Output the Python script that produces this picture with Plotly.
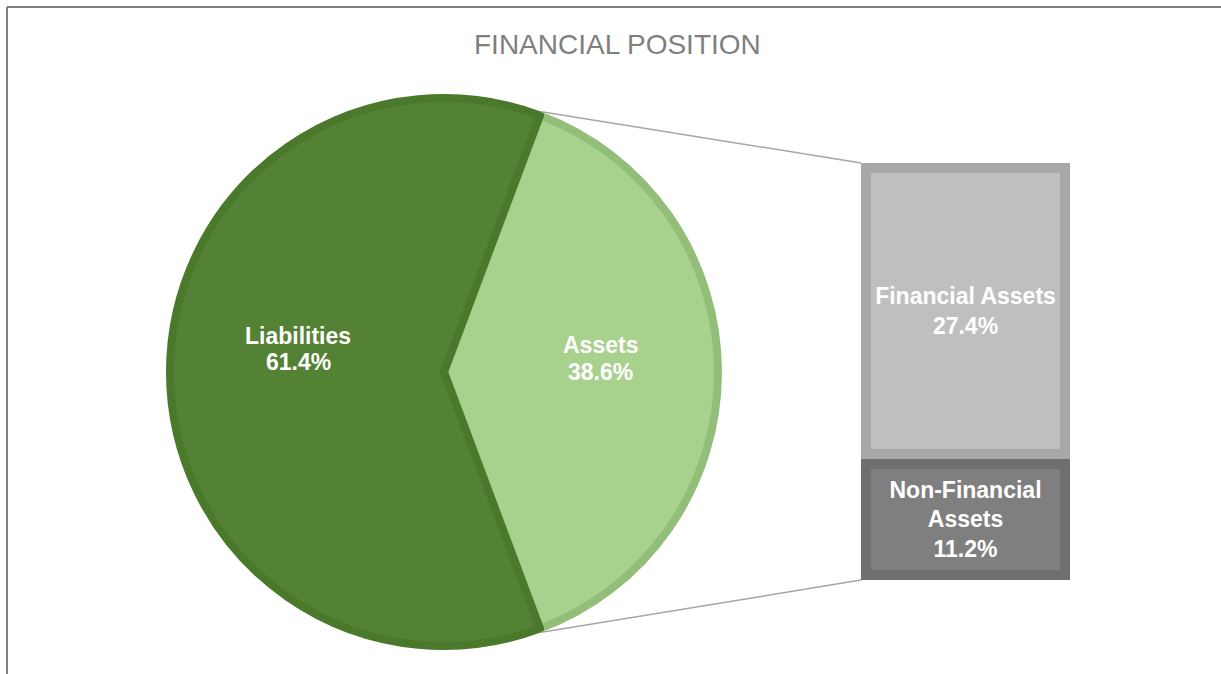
import math
import plotly.graph_objects as go

# ---- data ----
pie_labels = ["Assets", "Liabilities"]
pie_values = [38.6, 61.4]
bar_labels = ["Non-Financial<br>Assets", "Financial Assets"]
bar_values = [11.2, 27.4]
title_text = "FINANCIAL POSITION"

# ---- style / layout constants ----
W, H = 1221, 674
FONT = "Liberation Sans, Arial, sans-serif"
pie_fill = ["#a9d18e", "#548235"]
pie_edge = ["#93be7a", "#4b792b"]
bar_fill = ["#7f7f7f", "#bfbfbf"]
bar_edge = ["#6f6f6f", "#a8a8a8"]

pie_cx, pie_cy, pie_r = 444, 372, 278   # pixels
pie_line = 8
bar_x0, bar_x1, bar_y0, bar_y1 = 861, 1070, 163, 580  # pixels
border_px = 10

def px(x):
    return x / W

def py(y):
    return 1 - y / H

total_assets = sum(bar_values)
share = pie_values[0] / sum(pie_values)
rotation = 90 - 360 * share / 2

r_in = pie_r - pie_line / 2
fig = go.Figure()
fig.add_trace(go.Pie(
    labels=pie_labels, values=pie_values, sort=False, direction="clockwise",
    rotation=rotation, textinfo="none", hoverinfo="label+percent",
    marker=dict(colors=pie_fill, line=dict(color=pie_edge, width=pie_line)),
    domain=dict(x=[px(pie_cx - r_in), px(pie_cx + r_in)],
                y=[py(pie_cy + r_in), py(pie_cy - r_in)]),
    showlegend=False,
))

# bar of assets breakdown
bases = [0, bar_values[0]]
unit_y = total_assets / (bar_y1 - bar_y0)
unit_x = 1 / (bar_x1 - bar_x0)
iy = border_px * unit_y
ix = border_px * unit_x
fig.add_trace(go.Bar(
    x=[0, 0], y=bar_values, base=bases, width=1,
    marker=dict(color=bar_edge, line=dict(width=0)),
    hoverinfo="skip", showlegend=False,
))
fig.add_trace(go.Bar(
    x=[0, 0], y=[v - 2 * iy for v in bar_values], base=[b + iy for b in bases],
    width=1 - 2 * ix,
    marker=dict(color=bar_fill, line=dict(width=0)),
    text=[f"{l}<br>{v:.1f}%" for l, v in zip(bar_labels, bar_values)],
    textposition="inside", insidetextanchor="middle", constraintext="none",
    textfont=dict(family=FONT, size=23, color="white", weight="bold"),
    textangle=0, hoverinfo="skip", showlegend=False,
))

# connector lines from pie to bar
ang = math.radians(rotation)
top_pt = (pie_cx + pie_r * math.sin(ang), pie_cy - pie_r * math.cos(ang))
bot_pt = (pie_cx + pie_r * math.sin(ang), pie_cy + pie_r * math.cos(ang))
shapes = [
    dict(type="line", xref="paper", yref="paper",
         x0=px(top_pt[0]), y0=py(top_pt[1]), x1=px(bar_x0), y1=py(bar_y0),
         line=dict(color="#a6a6a6", width=1.5)),
    dict(type="line", xref="paper", yref="paper",
         x0=px(bot_pt[0]), y0=py(bot_pt[1]), x1=px(bar_x0), y1=py(bar_y1),
         line=dict(color="#a6a6a6", width=1.5)),
    # chart frame (top and left edges visible)
    dict(type="line", xref="paper", yref="paper", x0=px(7), y0=py(7), x1=1.01, y1=py(7),
         line=dict(color="#7f7f7f", width=2)),
    dict(type="line", xref="paper", yref="paper", x0=px(7), y0=py(7), x1=px(7), y1=-0.01,
         line=dict(color="#7f7f7f", width=2)),
]

annotations = [
    dict(text=title_text, x=px(617), y=py(44), xref="paper", yref="paper",
         showarrow=False, xanchor="center", yanchor="middle",
         font=dict(family=FONT, size=28, color="#7f7f7f")),
]
# label line centres (pixels): name line, value line
label_pos = {"Liabilities": (298, 336, 362), "Assets": (600, 345, 372)}
for lab, val in zip(pie_labels, pie_values):
    x, y1, y2 = label_pos[lab]
    for txt, yy in ((lab, y1), (f"{val:.1f}%", y2)):
        annotations.append(dict(
            text=txt, x=px(x), y=py(yy), xref="paper", yref="paper",
            showarrow=False, xanchor="center", yanchor="middle",
            font=dict(family=FONT, size=23, color="white", weight="bold")))

fig.update_layout(
    width=W, height=H, margin=dict(l=0, r=0, t=0, b=0),
    paper_bgcolor="white", plot_bgcolor="rgba(0,0,0,0)",
    barmode="overlay",
    xaxis=dict(domain=[px(bar_x0), px(bar_x1)], range=[-0.5, 0.5], visible=False, fixedrange=True),
    yaxis=dict(domain=[py(bar_y1), py(bar_y0)], range=[0, total_assets], visible=False, fixedrange=True),
    shapes=shapes, annotations=annotations,
)

fig.write_html("out.html", config={"displayModeBar": False},
               post_script="document.body.style.margin='0px';")
